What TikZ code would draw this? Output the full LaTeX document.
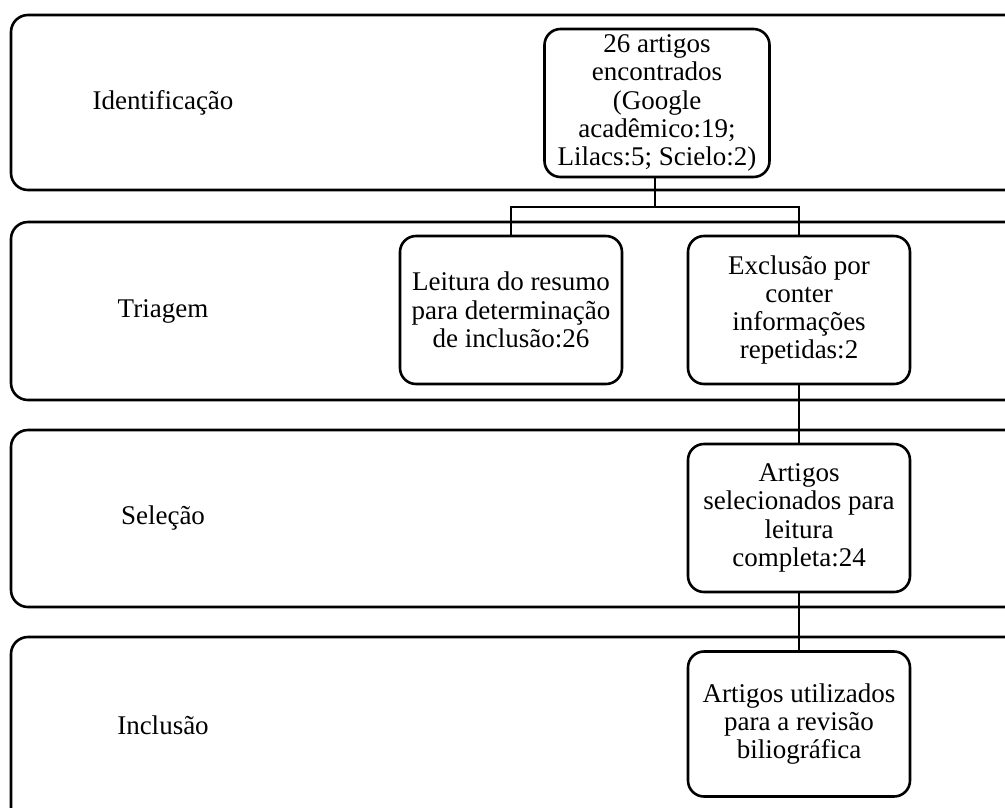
\documentclass[tikz,border=0pt]{standalone}
\usepackage{fontspec}
\setmainfont{Liberation Serif}
\usetikzlibrary{positioning}

\begin{document}
\begin{tikzpicture}
		[x=1pt,y=-1pt,
		band/.style={draw,line width=2.6pt,rounded corners=17pt},
		stage/.style={font=\fontsize{27}{28}\selectfont},
		box/.style={draw,line width=2.6pt,rounded corners=16pt,align=center,
			minimum width=222pt,minimum height=148pt,inner sep=0pt,
			font=\fontsize{27}{28.3}\selectfont},
		link/.style={draw,line width=1.4pt}]
		\clip (0,0) rectangle (1005,807);
		\fill[white] (0,0) rectangle (1005,807);
		% bands
		\draw[band] (11,15) rectangle (1040,190);
		\draw[band] (11,222) rectangle (1040,400);
		\draw[band] (11,430) rectangle (1040,607);
		\draw[band] (11,637) rectangle (1040,840);
		\node[stage] (ident) at (163,103) {Identificação};
		\node[stage] (triag) at (163,311) {Triagem};
		\node[stage] (selec) at (163,518) {Seleção};
		\node[stage] (inclu) at (163,725) {Inclusão};
		% boxes
		\node[box,minimum width=225pt] (found) at (657,103) {26 artigos\\encontrados\\(Google\\acadêmico:19;\\Lilacs:5; Scielo:2)};
		\node[box] (abstract) at (511,310) {Leitura do resumo\\para determinação\\de inclusão:26};
		\node[box] (excl) at (799,310) {Exclusão por\\conter\\informações\\repetidas:2};
		\node[box] (sel) at (799,518) {Artigos\\selecionados para\\leitura\\completa:24};
		\node[box,minimum height=145pt] (used) at (799,724) {Artigos utilizados\\para a revisão\\biliográfica};
		% connectors
		\coordinate (split) at (655,207);
		\draw[link] (found.south -| split) -- (split);
		\draw[link] (abstract.north) |- (split) -| (excl.north);
		\draw[link] (excl) -- (sel);
		\draw[link] (sel) -- (used);
\end{tikzpicture}
\end{document}
